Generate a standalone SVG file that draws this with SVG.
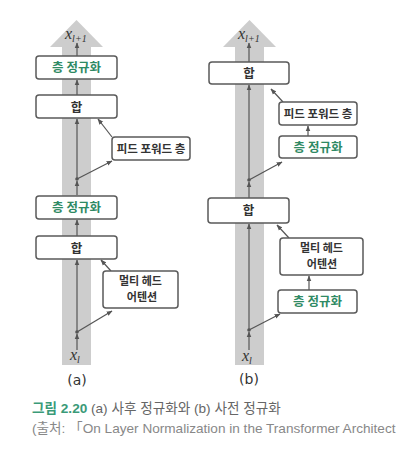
<svg xmlns="http://www.w3.org/2000/svg" width="400" height="453" viewBox="0 0 400 453">
<defs>
<marker id="ah" viewBox="0 0 10 10" refX="9" refY="5" markerWidth="5" markerHeight="5" orient="auto-start-reverse">
<path d="M0,1 L10,5 L0,9 z" fill="#555"/>
</marker>
<style>
.band{fill:#cdcdcd}
.box{fill:#fff;stroke:#5a5a5a;stroke-width:1.5}
.t{font-family:"Noto Sans CJK KR","Noto Sans",sans-serif;font-size:12.5px;font-weight:bold;fill:#333;text-anchor:middle}
.t2{font-size:11px}
.t3{font-size:11.5px}
.g{fill:#2f8a64}
.c{stroke:#555;stroke-width:1.2;fill:none;marker-end:url(#ah)}
.dot{fill:#555}
.x{font-family:"Liberation Serif",serif;font-style:italic;font-size:16px;fill:#333}
.sub{font-family:"Liberation Serif",serif;font-size:10px;fill:#333}
.lab{font-family:"DejaVu Sans",sans-serif;font-size:14px;fill:#333;text-anchor:middle}
</style>
</defs>
<rect width="400" height="453" fill="#fff"/>
<!-- bands -->
<g id="band-a">
<rect class="band" x="62" y="46" width="29" height="319"/>
<polygon class="band" points="50,47 76.5,20 103,47"/>
</g>
<g id="band-b">
<rect class="band" x="235" y="46" width="29" height="319"/>
<polygon class="band" points="223,47 249.5,20 276,47"/>
</g>
<!-- connectors -->
<g id="connectors">
<!-- (a) -->
<line class="c" x1="77" y1="56" x2="77" y2="43"/>
<line class="c" x1="77" y1="95" x2="77" y2="80"/>
<line class="c" x1="77" y1="179" x2="77" y2="119"/>
<line class="c" x1="77" y1="179" x2="112" y2="161"/>
<line class="c" x1="112" y1="137" x2="98" y2="119"/>
<line class="c" x1="77" y1="195" x2="77" y2="181"/>
<line class="c" x1="77" y1="236" x2="77" y2="220"/>
<line class="c" x1="77" y1="332" x2="77" y2="260"/>
<line class="c" x1="77" y1="332" x2="112" y2="311"/>
<line class="c" x1="111" y1="271" x2="101" y2="260"/>
<line class="c" x1="77" y1="350" x2="77" y2="334"/>
<circle class="dot" cx="77" cy="179" r="1.8"/>
<circle class="dot" cx="77" cy="332" r="1.8"/>
<!-- (b) -->
<line class="c" x1="249" y1="62" x2="249" y2="43"/>
<line class="c" x1="249" y1="180" x2="249" y2="85"/>
<line class="c" x1="249" y1="180" x2="282" y2="162"/>
<line class="c" x1="308" y1="136" x2="308" y2="126"/>
<line class="c" x1="283" y1="102" x2="271" y2="89"/>
<line class="c" x1="249" y1="198" x2="249" y2="182"/>
<line class="c" x1="249" y1="330" x2="249" y2="224"/>
<line class="c" x1="249" y1="330" x2="280" y2="314"/>
<line class="c" x1="309" y1="290" x2="309" y2="276"/>
<line class="c" x1="289" y1="238" x2="277" y2="225"/>
<line class="c" x1="249" y1="350" x2="249" y2="332"/>
<circle class="dot" cx="249" cy="180" r="1.8"/>
<circle class="dot" cx="249" cy="330" r="1.8"/>
</g>
<!-- (a) nodes -->
<g id="a-xl1"><text class="x" x="65" y="39">x<tspan class="sub" dy="3">l+1</tspan></text></g>
<g id="a-ln-top"><rect class="box" x="36" y="56" width="81" height="23" rx="3"/><text class="t g" x="76.5" y="72">층 정규화</text></g>
<g id="a-add-top"><rect class="box" x="36" y="95" width="81" height="23" rx="3"/><text class="t" x="76.5" y="111.5" font-size="13">합</text></g>
<g id="a-ffn"><rect class="box" x="112" y="137" width="78" height="23" rx="3"/><text class="t t3" x="151" y="153">피드 포워드 층</text></g>
<g id="a-ln-bot"><rect class="box" x="36" y="196" width="81" height="23" rx="3"/><text class="t g" x="76.5" y="212">층 정규화</text></g>
<g id="a-add-bot"><rect class="box" x="36" y="236" width="81" height="23" rx="3"/><text class="t" x="76.5" y="252.5">합</text></g>
<g id="a-mha"><rect class="box" x="103" y="271" width="75" height="37" rx="3"/><text class="t t2" x="140.5" y="285">멀티 헤드</text><text class="t t2" x="142" y="301">어텐션</text></g>
<g id="a-xl"><text class="x" x="70" y="360">x<tspan class="sub" dy="3">l</tspan></text></g>
<g id="a-label"><text class="lab" x="77" y="385">(a)</text></g>
<!-- (b) nodes -->
<g id="b-xl1"><text class="x" x="238" y="39">x<tspan class="sub" dy="3">l+1</tspan></text></g>
<g id="b-add-top"><rect class="box" x="209" y="62" width="80" height="22" rx="3"/><text class="t" x="249" y="78">합</text></g>
<g id="b-ffn"><rect class="box" x="279" y="102" width="78" height="23" rx="3"/><text class="t t3" x="318" y="118">피드 포워드 층</text></g>
<g id="b-ln-top"><rect class="box" x="279" y="136" width="78" height="22" rx="3"/><text class="t g" x="318" y="152">층 정규화</text></g>
<g id="b-add-bot"><rect class="box" x="208" y="198" width="81" height="25" rx="3"/><text class="t" x="248.5" y="215">합</text></g>
<g id="b-mha"><rect class="box" x="280" y="238" width="83" height="37" rx="3"/><text class="t t2" x="321.5" y="252">멀티 헤드</text><text class="t t2" x="322" y="268">어텐션</text></g>
<g id="b-ln-bot"><rect class="box" x="278" y="290" width="79" height="23" rx="3"/><text class="t g" x="317.5" y="306">층 정규화</text></g>
<g id="b-xl"><text class="x" x="242" y="361">x<tspan class="sub" dy="3">l</tspan></text></g>
<g id="b-label"><text class="lab" x="249" y="384">(b)</text></g>
<!-- caption -->
<g id="caption" font-family="'Liberation Sans','Noto Sans CJK KR',sans-serif" font-size="13.6">
<text x="32" y="413" fill="#666"><tspan fill="#3a9a78" font-weight="bold">그림 2.20</tspan> (a) 사후 정규화와 (b) 사전 정규화</text>
<text x="32" y="433" fill="#888">(출처: 「On Layer Normalization in the Transformer Architect</text>
</g>
</svg>
